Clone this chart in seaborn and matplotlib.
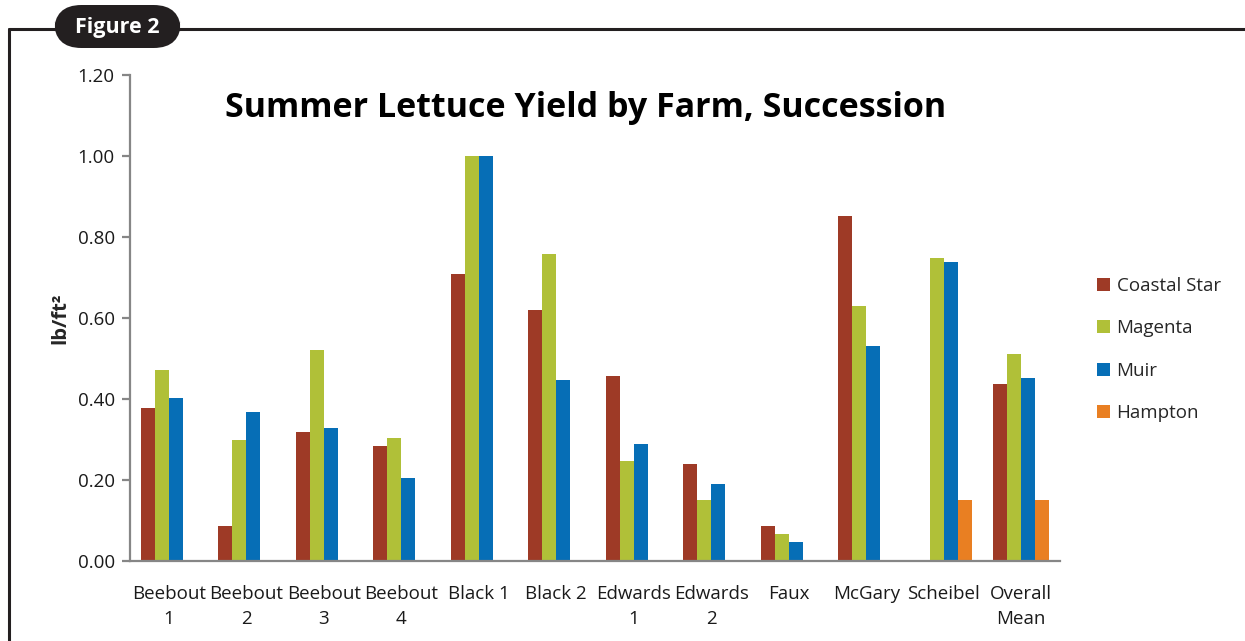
import numpy as np
import pandas as pd
import seaborn as sns
import matplotlib
matplotlib.use("Agg")
import matplotlib.pyplot as plt
from matplotlib.patches import FancyBboxPatch, Patch
from matplotlib.lines import Line2D

farms = ["Beebout\n1", "Beebout\n2", "Beebout\n3", "Beebout\n4", "Black 1", "Black 2",
         "Edwards\n1", "Edwards\n2", "Faux", "McGary", "Scheibel", "Overall\nMean"]
varieties = ["Coastal Star", "Magenta", "Muir", "Hampton"]
coastal_star = [0.377, 0.086, 0.318, 0.283, 0.708, 0.619, 0.456, 0.239, 0.086, 0.851, None, 0.436]
magenta      = [0.471, 0.298, 0.520, 0.303, 1.000, 0.757, 0.248, 0.150, 0.066, 0.629, 0.747, 0.511]
muir         = [0.402, 0.367, 0.328, 0.204, 1.000, 0.446, 0.288, 0.189, 0.046, 0.530, 0.738, 0.451]
hampton      = [None, None, None, None, None, None, None, None, None, None, 0.150, 0.150]
colors = ["#9E3A26", "#B0C038", "#066EB6", "#E97F22"]

rows = []
for v, vals in zip(varieties, [coastal_star, magenta, muir, hampton]):
    for f, val in zip(farms, vals):
        if val is not None:
            rows.append({"farm": f, "variety": v, "yield": val})
df = pd.DataFrame(rows)

sns.set_style("white")
plt.rcParams['font.family'] = ['Open Sans', 'DejaVu Sans']

fig = plt.figure(figsize=(12.45, 6.41), dpi=100)
ax = fig.add_axes([130/1245, 1 - 561/641, (1060-130)/1245, (561-75)/641])

sns.barplot(data=df, x="farm", y="yield", hue="variety", order=farms,
            hue_order=varieties, palette=colors, width=0.725, errorbar=None,
            saturation=1, linewidth=0, ax=ax)

ax.set_xlim(-0.5, len(farms) - 0.5)
ax.set_ylim(0, 1.2)
ax.set_yticks(np.arange(0, 1.21, 0.2))
ax.set_yticklabels([f"{t:.2f}" for t in np.arange(0, 1.21, 0.2)])
ax.set_xlabel("")
ax.set_ylabel("lb/ft²", fontsize=14.5, fontweight="bold", labelpad=5)

gray = "#868686"
for s in ["top", "right"]:
    ax.spines[s].set_visible(False)
for s in ["left", "bottom"]:
    ax.spines[s].set_color(gray)
    ax.spines[s].set_linewidth(1.6)

ax.set_xticks(np.arange(-0.5, len(farms), 1.0), minor=True)
ax.tick_params(axis="x", which="minor", length=6, width=1.6, color=gray, direction="out")
ax.tick_params(axis="x", which="major", length=0, pad=17, labelsize=13.5, labelcolor="#1a1a1a")
ax.tick_params(axis="y", length=6, width=1.6, color=gray, direction="out", labelsize=13.5,
               labelcolor="#1a1a1a", left=True, pad=5)
for lbl in ax.get_xticklabels():
    lbl.set_linespacing(1.55)

if ax.get_legend() is not None:
    ax.get_legend().remove()

handles = [Patch(facecolor=c, edgecolor="none") for c in colors]
fig.legend(handles, varieties, loc="upper left", bbox_to_anchor=(1080/1245, 1 - 260/641),
           frameon=False, fontsize=13.5, handlelength=0.7, handleheight=0.7,
           handletextpad=0.35, labelspacing=1.3)

fig.text(586/1245, 1 - 108/641, "Summer Lettuce Yield by Farm, Succession",
         ha="center", va="center", fontsize=24.5, fontweight="bold", color="black")

# frame lines
fig.add_artist(Line2D([9/1245, 1.0], [1 - 28.5/641, 1 - 28.5/641], transform=fig.transFigure,
                      color="#231F20", linewidth=2.2))
fig.add_artist(Line2D([9/1245, 9/1245], [1 - 28.5/641, 0], transform=fig.transFigure,
                      color="#231F20", linewidth=2.2))
# Figure 2 tab
tab = FancyBboxPatch((54/1245, 1 - 48/641), (181-54)/1245, (48-5)/641,
                     boxstyle="round,pad=0,rounding_size=0.022", transform=fig.transFigure,
                     facecolor="#231F20", edgecolor="none", mutation_aspect=1245/641)
fig.add_artist(tab)
fig.text(117/1245, 1 - 27/641, "Figure 2", ha="center", va="center", fontsize=15.5,
         fontweight="bold", color="white")

fig.savefig("out.png", dpi=100)
